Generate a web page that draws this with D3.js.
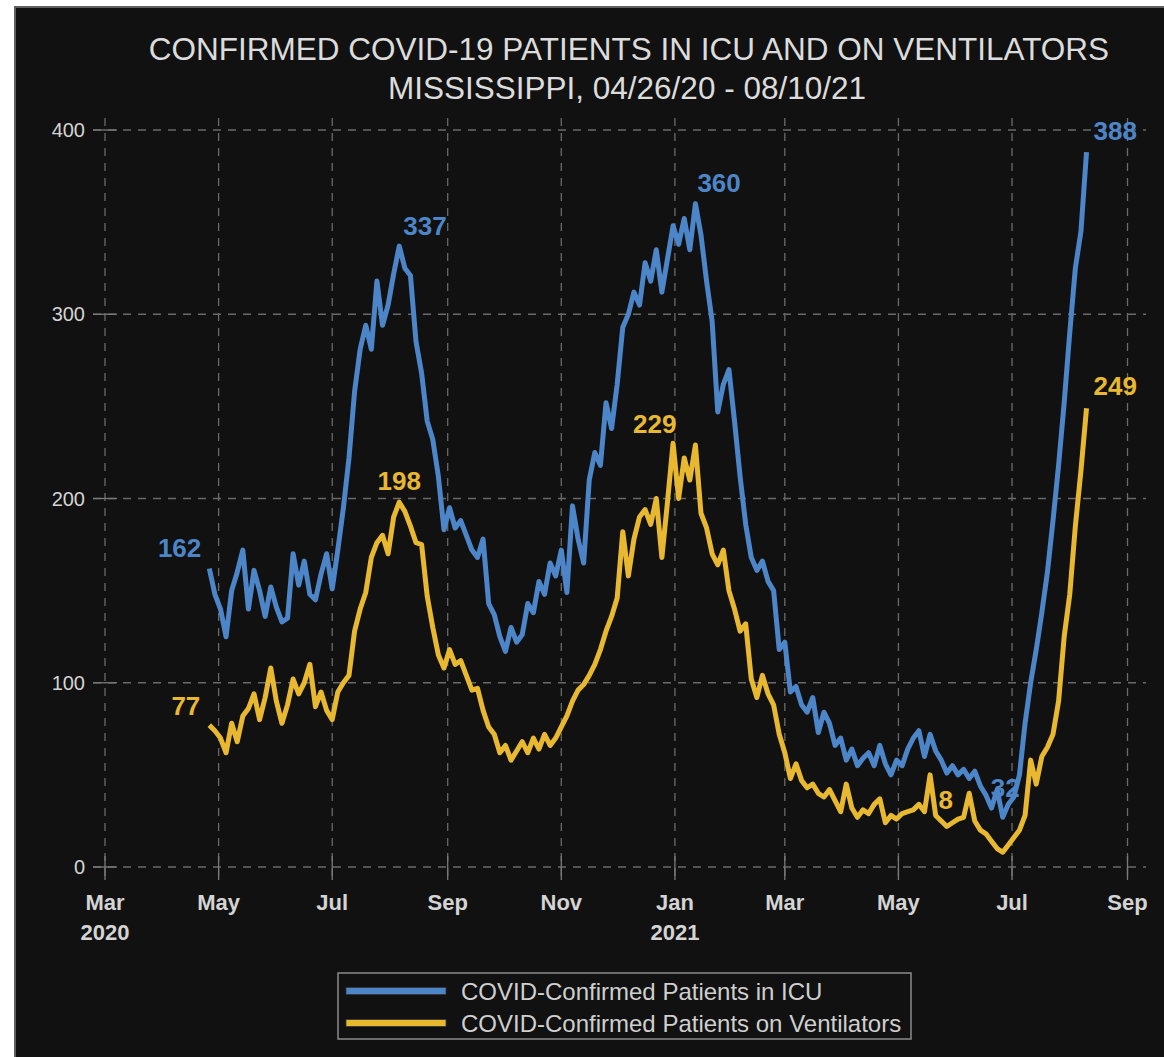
<!DOCTYPE html>
<html>
<head>
<meta charset="utf-8">
<script src="https://cdn.jsdelivr.net/npm/d3@7"></script>
<style>
  html, body { margin: 0; padding: 0; background: #fff; }
  svg { display: block; }
</style>
</head>
<body>
<div id="chart"></div>
<script>
// Series start 04/26/20, one value every 3 days up to 08/10/21
const startDate = new Date(2020, 3, 26);
const stepDays = 3;

const icuValues = [
  162, 148, 140, 125, 150, 160, 172, 140, 161, 150, 136, 152, 141, 133, 135, 170,
  153, 166, 148, 145, 159, 170, 151, 172, 195, 222, 258, 281, 294, 281, 318, 294,
  305, 322, 337, 325, 321, 285, 268, 242, 232, 212, 183, 195, 184, 188, 180, 172,
  168, 178, 143, 137, 125, 117, 130, 122, 126, 143, 138, 155, 148, 165, 158, 172,
  149, 196, 178, 165, 210, 225, 218, 252, 238, 262, 293, 300, 312, 305, 328, 318,
  335, 312, 330, 348, 338, 352, 335, 360, 343, 318, 296, 247, 262, 270, 242, 212,
  186, 168, 161, 166, 155, 150, 118, 122, 95, 98, 88, 84, 92, 73, 84, 78,
  66, 70, 58, 64, 55, 59, 62, 55, 66, 56, 50, 58, 55, 64, 70, 74,
  60, 72, 63, 58, 51, 55, 50, 53, 48, 52, 44, 39, 32, 42, 27, 34,
  38, 50, 78, 100, 118, 138, 160, 188, 218, 252, 290, 325, 345, 388
];

const ventValues = [
  77, 74, 70, 62, 78, 68, 82, 86, 94, 80, 92, 108, 90, 78, 88, 102,
  94, 100, 110, 87, 95, 85, 80, 95, 100, 104, 128, 140, 149, 168, 176, 180,
  170, 190, 198, 193, 185, 176, 175, 147, 130, 115, 108, 118, 110, 112, 104, 96,
  97, 85, 76, 72, 62, 66, 58, 63, 68, 62, 70, 64, 72, 66, 70, 76,
  82, 90, 96, 99, 104, 110, 118, 128, 136, 146, 182, 158, 178, 190, 194, 186,
  200, 168, 198, 230, 200, 222, 210, 229, 192, 184, 170, 164, 172, 150, 140, 128,
  132, 102, 92, 104, 94, 88, 72, 62, 48, 56, 47, 43, 45, 40, 38, 42,
  36, 30, 45, 32, 27, 31, 29, 34, 37, 24, 28, 26, 29, 30, 31, 34,
  30, 50, 28, 25, 22, 24, 26, 27, 40, 25, 20, 18, 14, 10, 8, 12,
  16, 20, 28, 58, 45, 60, 65, 72, 90, 125, 148, 185, 215, 249
];

const seriesNames = ["COVID-Confirmed Patients in ICU", "COVID-Confirmed Patients on Ventilators"];
const seriesColors = ["#4c86c9", "#e8b830"];

const yTicks = [0, 100, 200, 300, 400];
const xTickDates = ["2020-03-01", "2020-05-01", "2020-07-01", "2020-09-01", "2020-11-01",
                    "2021-01-01", "2021-03-01", "2021-05-01", "2021-07-01", "2021-09-01"];
const xTickLabels = ["Mar", "May", "Jul", "Sep", "Nov", "Jan", "Mar", "May", "Jul", "Sep"];
const xYearLabels = ["2020", "", "", "", "", "2021", "", "", "", ""];

// point labels: series index, day offset from start, text
const pointLabels = [
  { s: 0, day: 0,   text: "162", dx: -8,  dy: -12, anchor: "end" },
  { s: 1, day: 0,   text: "77",  dx: -9,  dy: -10, anchor: "end" },
  { s: 0, day: 102, text: "337", dx: 4,   dy: -11, anchor: "start" },
  { s: 1, day: 102, text: "198", dx: 0,   dy: -12, anchor: "middle" },
  { s: 0, day: 261, text: "360", dx: 2,   dy: -12, anchor: "start" },
  { s: 1, day: 261, text: "229", dx: -19, dy: -12, anchor: "end" },
  { s: 1, day: 426, text: "8",   dx: -57, dy: -43, anchor: "middle" },
  { s: 0, day: 426, text: "32",  dx: -12, dy: -20, anchor: "start" },
  { s: 0, day: 471, text: "388", dx: 7,   dy: -12, anchor: "start" },
  { s: 1, day: 471, text: "249", dx: 7,   dy: -13, anchor: "start" }
];

const width = 1164;
const height = 1057;
const font = "'Liberation Sans', Arial, sans-serif";
const parse = d3.timeParse("%Y-%m-%d");

const svg = d3.select("#chart")
  .append("svg")
    .attr("width", width)
    .attr("height", height);

// dark panel
svg.append("rect")
    .attr("x", 15).attr("y", 7)
    .attr("width", 1170).attr("height", 1070)
    .attr("fill", "#111111")
    .attr("stroke", "#5e5e5e")
    .attr("stroke-width", 2);

const x = d3.scaleTime()
    .domain([parse("2020-03-01"), parse("2021-09-01")])
    .range([105, 1127.5]);

const y = d3.scaleLinear()
    .domain([0, 400])
    .range([867, 130]);

const dates = icuValues.map((v, i) => d3.timeDay.offset(startDate, i * stepDays));
const series = [icuValues, ventValues].map(vals => vals.map((v, i) => ({ date: dates[i], value: v })));

// title
const title = svg.append("g")
    .attr("font-family", font)
    .attr("fill", "#dcdcdc")
    .attr("text-anchor", "middle")
    .attr("font-size", 31.5);
title.append("text").attr("x", 629).attr("y", 60)
    .text("CONFIRMED COVID-19 PATIENTS IN ICU AND ON VENTILATORS");
title.append("text").attr("x", 627).attr("y", 99)
    .text("MISSISSIPPI, 04/26/20 - 08/10/21");

// grid
const grid = svg.append("g")
    .attr("stroke", "#6a6a6a")
    .attr("stroke-width", 1.3)
    .attr("stroke-dasharray", "8,7");

grid.selectAll("line.h")
  .data(yTicks)
  .enter().append("line")
    .attr("class", "h")
    .attr("x1", 93).attr("x2", 1146)
    .attr("y1", d => y(d)).attr("y2", d => y(d));

grid.selectAll("line.v")
  .data(xTickDates)
  .enter().append("line")
    .attr("class", "v")
    .attr("x1", d => x(parse(d))).attr("x2", d => x(parse(d)))
    .attr("y1", 118).attr("y2", 880);

// solid ticks
const ticks = svg.append("g")
    .attr("stroke", "#7a7a7a")
    .attr("stroke-width", 1.3);
ticks.selectAll("line.yt")
  .data(yTicks)
  .enter().append("line")
    .attr("x1", 93).attr("x2", 117)
    .attr("y1", d => y(d)).attr("y2", d => y(d));
ticks.selectAll("line.xt")
  .data(xTickDates)
  .enter().append("line")
    .attr("x1", d => x(parse(d))).attr("x2", d => x(parse(d)))
    .attr("y1", 856).attr("y2", 880);

// y tick labels
svg.append("g")
    .attr("font-family", font)
    .attr("font-size", 20)
    .attr("fill", "#d4d4d4")
    .attr("text-anchor", "end")
  .selectAll("text")
  .data(yTicks)
  .enter().append("text")
    .attr("x", 85)
    .attr("y", d => y(d) + 7)
    .text(d => d);

// x tick labels
const xl = svg.append("g")
    .attr("font-family", font)
    .attr("font-size", 22)
    .attr("font-weight", "bold")
    .attr("fill", "#d4d4d4")
    .attr("text-anchor", "middle");
xl.selectAll("text.m")
  .data(xTickDates)
  .enter().append("text")
    .attr("x", d => x(parse(d)))
    .attr("y", 910)
    .text((d, i) => xTickLabels[i]);
xl.selectAll("text.yr")
  .data(xTickDates)
  .enter().append("text")
    .attr("x", d => x(parse(d)))
    .attr("y", 940)
    .text((d, i) => xYearLabels[i]);

// point labels (drawn below the lines)
svg.append("g")
    .attr("font-family", font)
    .attr("font-size", 26)
    .attr("font-weight", "bold")
  .selectAll("text")
  .data(pointLabels)
  .enter().append("text")
    .attr("x", d => x(series[d.s][d.day / stepDays].date) + d.dx)
    .attr("y", d => y(series[d.s][d.day / stepDays].value) + d.dy)
    .attr("text-anchor", d => d.anchor)
    .attr("fill", d => seriesColors[d.s])
    .text(d => d.text);

// lines
const line = d3.line()
    .x(d => x(d.date))
    .y(d => y(d.value));

svg.append("g")
  .selectAll("path")
  .data(series)
  .enter().append("path")
    .attr("d", line)
    .attr("fill", "none")
    .attr("stroke", (d, i) => seriesColors[i])
    .attr("stroke-width", 5)
    .attr("stroke-linejoin", "round");

// legend
const legend = svg.append("g");
legend.append("rect")
    .attr("x", 338).attr("y", 973)
    .attr("width", 573).attr("height", 66)
    .attr("fill", "none")
    .attr("stroke", "#8a8a8a")
    .attr("stroke-width", 1.5);

const items = legend.selectAll("g")
  .data(seriesNames)
  .enter().append("g")
    .attr("transform", (d, i) => `translate(0,${991 + i * 32})`);

items.append("rect")
    .attr("x", 346).attr("y", -3.5)
    .attr("width", 100).attr("height", 7)
    .attr("fill", (d, i) => seriesColors[i])
    .attr("stroke", "#333")
    .attr("stroke-width", 0.8);

items.append("text")
    .attr("x", 461).attr("y", 8.5)
    .attr("font-family", font)
    .attr("font-size", 24)
    .attr("fill", "#cfcfcf")
    .text(d => d);
</script>
</body>
</html>
